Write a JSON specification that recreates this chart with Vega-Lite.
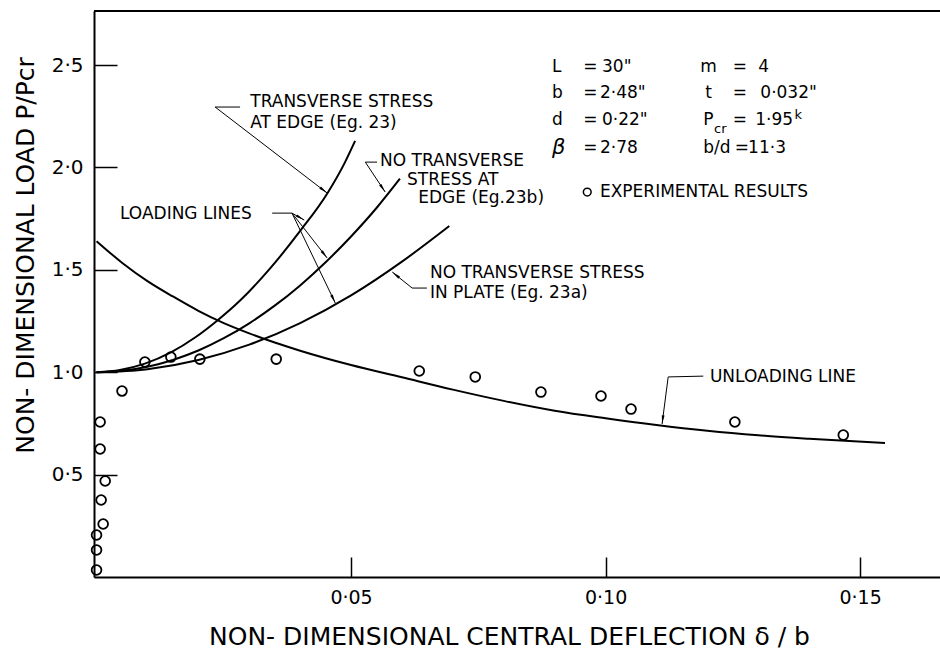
{
  "$schema": "https://vega.github.io/schema/vega-lite/v6.json",
  "width": 846,
  "height": 566,
  "autosize": {"type": "none"},
  "padding": {"left": 94, "top": 11, "right": 0, "bottom": 74},
  "background": "white",
  "config": {
    "view": {"stroke": null},
    "font": "DejaVu Sans",
    "axis": {
      "grid": false,
      "domainColor": "black",
      "domainWidth": 2,
      "tickColor": "black",
      "tickWidth": 1.5,
      "labelColor": "black",
      "titleColor": "black",
      "labelFont": "DejaVu Sans",
      "titleFont": "DejaVu Sans",
      "titleFontWeight": "normal"
    },
    "text": {"align": "left", "baseline": "middle", "color": "black", "font": "DejaVu Sans"}
  },
  "datasets": {
    "curves": [
      {"curve": "Eq23", "x": 0, "y": 1.0},
      {"curve": "Eq23", "x": 0.0046, "y": 1.011},
      {"curve": "Eq23", "x": 0.0095, "y": 1.042},
      {"curve": "Eq23", "x": 0.0146, "y": 1.097},
      {"curve": "Eq23", "x": 0.0195, "y": 1.172},
      {"curve": "Eq23", "x": 0.0235, "y": 1.248},
      {"curve": "Eq23", "x": 0.0282, "y": 1.35},
      {"curve": "Eq23", "x": 0.0341, "y": 1.507},
      {"curve": "Eq23", "x": 0.04, "y": 1.69},
      {"curve": "Eq23", "x": 0.0453, "y": 1.872},
      {"curve": "Eq23", "x": 0.0488, "y": 2.025},
      {"curve": "Eq23", "x": 0.0508, "y": 2.13},
      {"curve": "Eq23b", "x": 0, "y": 1.0},
      {"curve": "Eq23b", "x": 0.005, "y": 1.007},
      {"curve": "Eq23b", "x": 0.01, "y": 1.027},
      {"curve": "Eq23b", "x": 0.015, "y": 1.06},
      {"curve": "Eq23b", "x": 0.02, "y": 1.106},
      {"curve": "Eq23b", "x": 0.025, "y": 1.166},
      {"curve": "Eq23b", "x": 0.03, "y": 1.239},
      {"curve": "Eq23b", "x": 0.035, "y": 1.325},
      {"curve": "Eq23b", "x": 0.04, "y": 1.424},
      {"curve": "Eq23b", "x": 0.045, "y": 1.537},
      {"curve": "Eq23b", "x": 0.05, "y": 1.663},
      {"curve": "Eq23b", "x": 0.055, "y": 1.802},
      {"curve": "Eq23b", "x": 0.0596, "y": 1.945},
      {"curve": "Eq23a", "x": 0, "y": 1.0},
      {"curve": "Eq23a", "x": 0.01, "y": 1.015},
      {"curve": "Eq23a", "x": 0.02, "y": 1.06},
      {"curve": "Eq23a", "x": 0.03, "y": 1.135},
      {"curve": "Eq23a", "x": 0.04, "y": 1.24},
      {"curve": "Eq23a", "x": 0.05, "y": 1.375},
      {"curve": "Eq23a", "x": 0.06, "y": 1.54},
      {"curve": "Eq23a", "x": 0.0693, "y": 1.714},
      {"curve": "Unloading", "x": 0, "y": 1.64},
      {"curve": "Unloading", "x": 0.005, "y": 1.535},
      {"curve": "Unloading", "x": 0.01, "y": 1.445},
      {"curve": "Unloading", "x": 0.015, "y": 1.37},
      {"curve": "Unloading", "x": 0.02, "y": 1.3},
      {"curve": "Unloading", "x": 0.025, "y": 1.24},
      {"curve": "Unloading", "x": 0.03, "y": 1.19},
      {"curve": "Unloading", "x": 0.035, "y": 1.145},
      {"curve": "Unloading", "x": 0.04, "y": 1.105},
      {"curve": "Unloading", "x": 0.05, "y": 1.035},
      {"curve": "Unloading", "x": 0.06, "y": 0.975},
      {"curve": "Unloading", "x": 0.07, "y": 0.915},
      {"curve": "Unloading", "x": 0.08, "y": 0.86},
      {"curve": "Unloading", "x": 0.09, "y": 0.812},
      {"curve": "Unloading", "x": 0.1, "y": 0.775},
      {"curve": "Unloading", "x": 0.11, "y": 0.742},
      {"curve": "Unloading", "x": 0.12, "y": 0.714},
      {"curve": "Unloading", "x": 0.13, "y": 0.692},
      {"curve": "Unloading", "x": 0.14, "y": 0.675},
      {"curve": "Unloading", "x": 0.1549, "y": 0.654}
    ],
    "experiment": [
      {"x": 0.0, "y": 0.034},
      {"x": 0.0, "y": 0.132},
      {"x": 0.0, "y": 0.205},
      {"x": 0.0013, "y": 0.259},
      {"x": 0.0009, "y": 0.376},
      {"x": 0.0017, "y": 0.469},
      {"x": 0.0007, "y": 0.625},
      {"x": 0.0007, "y": 0.757},
      {"x": 0.005, "y": 0.908},
      {"x": 0.0095, "y": 1.05},
      {"x": 0.0146, "y": 1.074},
      {"x": 0.0203, "y": 1.064},
      {"x": 0.0353, "y": 1.064},
      {"x": 0.0634, "y": 1.006},
      {"x": 0.0744, "y": 0.977},
      {"x": 0.0873, "y": 0.903},
      {"x": 0.0991, "y": 0.884},
      {"x": 0.105, "y": 0.82},
      {"x": 0.1254, "y": 0.757},
      {"x": 0.1467, "y": 0.693}
    ],
    "leaders": [
      {"id": "A", "o": 1, "x": 0.0282, "y": 2.295},
      {"id": "A", "o": 2, "x": 0.0233, "y": 2.295},
      {"id": "A", "o": 3, "x": 0.0453, "y": 1.875},
      {"id": "B", "o": 1, "x": 0.0551, "y": 2.026},
      {"id": "B", "o": 2, "x": 0.0528, "y": 2.026},
      {"id": "B", "o": 3, "x": 0.0567, "y": 1.88},
      {"id": "C0", "o": 1, "x": 0.0345, "y": 1.777},
      {"id": "C0", "o": 2, "x": 0.0384, "y": 1.777},
      {"id": "C1", "o": 1, "x": 0.0384, "y": 1.777},
      {"id": "C1", "o": 2, "x": 0.0408, "y": 1.743},
      {"id": "C2", "o": 1, "x": 0.0384, "y": 1.777},
      {"id": "C2", "o": 2, "x": 0.0453, "y": 1.558},
      {"id": "C3", "o": 1, "x": 0.0384, "y": 1.777},
      {"id": "C3", "o": 2, "x": 0.0469, "y": 1.338},
      {"id": "D", "o": 1, "x": 0.0581, "y": 1.489},
      {"id": "D", "o": 2, "x": 0.062, "y": 1.411},
      {"id": "D", "o": 3, "x": 0.0649, "y": 1.411},
      {"id": "E", "o": 1, "x": 0.1192, "y": 0.981},
      {"id": "E", "o": 2, "x": 0.1123, "y": 0.977},
      {"id": "E", "o": 3, "x": 0.1111, "y": 0.747}
    ],
    "arrows": [
      {"id": "A", "x": 0.0453, "y": 1.875},
      {"id": "B", "x": 0.0567, "y": 1.88},
      {"id": "C1", "x": 0.0408, "y": 1.743},
      {"id": "C2", "x": 0.0453, "y": 1.558},
      {"id": "C3", "x": 0.0469, "y": 1.338},
      {"id": "D", "x": 0.0581, "y": 1.489},
      {"id": "E", "x": 0.1111, "y": 0.747}
    ],
    "labels": [
      {"t": "TRANSVERSE STRESS", "x": 0.0302, "y": 2.319, "g": "a"},
      {"t": "AT EDGE (Eg. 23)", "x": 0.0302, "y": 2.217, "g": "a"},
      {"t": "NO TRANSVERSE", "x": 0.0557, "y": 2.03, "g": "a"},
      {"t": "STRESS AT", "x": 0.061, "y": 1.94, "g": "a"},
      {"t": "EDGE (Eg.23b)", "x": 0.0632, "y": 1.85, "g": "a"},
      {"t": "LOADING LINES", "x": 0.0046, "y": 1.775, "g": "a"},
      {"t": "NO TRANSVERSE STRESS", "x": 0.0655, "y": 1.484, "g": "a"},
      {"t": "IN PLATE (Eg. 23a)", "x": 0.0655, "y": 1.387, "g": "a"},
      {"t": "UNLOADING LINE", "x": 0.1205, "y": 0.977, "g": "a"},
      {"t": "EXPERIMENTAL RESULTS", "x": 0.0989, "y": 1.88, "g": "p"},
      {"t": "L", "x": 0.0895, "y": 2.49, "g": "p"},
      {"t": "=", "x": 0.0956, "y": 2.49, "g": "p"},
      {"t": "30\"", "x": 0.0993, "y": 2.49, "g": "p"},
      {"t": "m", "x": 0.1186, "y": 2.49, "g": "p"},
      {"t": "=", "x": 0.125, "y": 2.49, "g": "p"},
      {"t": "4", "x": 0.13, "y": 2.49, "g": "p"},
      {"t": "b", "x": 0.0895, "y": 2.363, "g": "p"},
      {"t": "=", "x": 0.0956, "y": 2.363, "g": "p"},
      {"t": "2·48\"", "x": 0.0989, "y": 2.363, "g": "p"},
      {"t": "t", "x": 0.1196, "y": 2.363, "g": "p"},
      {"t": "=", "x": 0.125, "y": 2.363, "g": "p"},
      {"t": "0·032\"", "x": 0.1304, "y": 2.363, "g": "p"},
      {"t": "d", "x": 0.0895, "y": 2.231, "g": "p"},
      {"t": "=", "x": 0.0956, "y": 2.231, "g": "p"},
      {"t": "0·22\"", "x": 0.0993, "y": 2.231, "g": "p"},
      {"t": "P", "x": 0.1192, "y": 2.231, "g": "p"},
      {"t": "cr", "x": 0.1213, "y": 2.19, "g": "s"},
      {"t": "=", "x": 0.125, "y": 2.231, "g": "p"},
      {"t": "1·95", "x": 0.1294, "y": 2.231, "g": "p"},
      {"t": "k", "x": 0.1371, "y": 2.255, "g": "s"},
      {"t": "β", "x": 0.0895, "y": 2.095, "g": "b"},
      {"t": "=", "x": 0.0956, "y": 2.095, "g": "p"},
      {"t": "2·78", "x": 0.0989, "y": 2.095, "g": "p"},
      {"t": "b/d", "x": 0.1192, "y": 2.095, "g": "p"},
      {"t": "=", "x": 0.1254, "y": 2.095, "g": "p"},
      {"t": "11·3", "x": 0.128, "y": 2.095, "g": "p"}
    ],
    "legendmark": [{"x": 0.0964, "y": 1.88}]
  },
  "layer": [
    {
      "data": {"name": "curves"},
      "mark": {"type": "line", "color": "black", "strokeWidth": 2, "interpolate": "monotone"},
      "encoding": {
        "x": {
          "field": "x", "type": "quantitative",
          "scale": {"domain": [-0.0005, 0.1657], "nice": false, "zero": false},
          "axis": {
            "values": [0.05, 0.1, 0.15],
            "labelExpr": "replace(format(datum.value, '.2f'), '.', '·')",
            "tickSize": -20,
            "labelPadding": 31,
            "labelFontSize": 19,
            "title": "NON- DIMENSIONAL CENTRAL DEFLECTION δ / b",
            "titleFontSize": 25,
            "titleBaseline": "alphabetic",
            "titleY": 67,
            "titleX": 415
          }
        },
        "y": {
          "field": "y", "type": "quantitative",
          "scale": {"domain": [0, 2.764], "nice": false, "zero": false},
          "axis": {
            "values": [0.5, 1, 1.5, 2, 2.5],
            "labelExpr": "replace(format(datum.value, '.1f'), '.', '·')",
            "tickSize": -23,
            "labelPadding": 34,
            "labelFontSize": 20,
            "title": "NON- DIMENSIONAL LOAD P/Pcr",
            "titleFontSize": 25,
            "titleAngle": 270,
            "titleAlign": "center",
            "titleBaseline": "alphabetic",
            "titleX": -61,
            "titleY": 244
          }
        },
        "detail": {"field": "curve"}
      }
    },
    {
      "data": {"values": [{"top": 2.764}]},
      "mark": {"type": "rule", "color": "black", "strokeWidth": 2},
      "encoding": {"y": {"field": "top", "type": "quantitative"}}
    },
    {
      "data": {"name": "leaders"},
      "mark": {"type": "line", "color": "black", "strokeWidth": 1},
      "encoding": {
        "x": {"field": "x", "type": "quantitative"},
        "y": {"field": "y", "type": "quantitative"},
        "detail": {"field": "id"},
        "order": {"field": "o"}
      }
    },
    {
      "data": {"name": "experiment"},
      "mark": {"type": "point", "shape": "circle", "filled": false, "color": "black", "strokeWidth": 1.8, "size": 95, "opacity": 1},
      "encoding": {
        "x": {"field": "x", "type": "quantitative"},
        "y": {"field": "y", "type": "quantitative"}
      }
    },
    {
      "data": {"name": "legendmark"},
      "mark": {"type": "point", "shape": "circle", "filled": false, "color": "black", "strokeWidth": 1.5, "size": 60, "opacity": 1},
      "encoding": {
        "x": {"field": "x", "type": "quantitative"},
        "y": {"field": "y", "type": "quantitative"}
      }
    },
    {"data": {"name": "arrows"}, "transform": [{"filter": "datum.id == 'A'"}],
     "mark": {"type": "point", "shape": "M0,0L0.35,2.2L-0.35,2.2Z", "filled": true, "color": "black", "size": 64, "opacity": 1, "angle": 127.5},
     "encoding": {"x": {"field": "x", "type": "quantitative"}, "y": {"field": "y", "type": "quantitative"}}},
    {"data": {"name": "arrows"}, "transform": [{"filter": "datum.id == 'B'"}],
     "mark": {"type": "point", "shape": "M0,0L0.35,2.2L-0.35,2.2Z", "filled": true, "color": "black", "size": 64, "opacity": 1, "angle": 146.3},
     "encoding": {"x": {"field": "x", "type": "quantitative"}, "y": {"field": "y", "type": "quantitative"}}},
    {"data": {"name": "arrows"}, "transform": [{"filter": "datum.id == 'C1'"}],
     "mark": {"type": "point", "shape": "M0,0L0.35,2.2L-0.35,2.2Z", "filled": true, "color": "black", "size": 64, "opacity": 1, "angle": 120.3},
     "encoding": {"x": {"field": "x", "type": "quantitative"}, "y": {"field": "y", "type": "quantitative"}}},
    {"data": {"name": "arrows"}, "transform": [{"filter": "datum.id == 'C2'"}],
     "mark": {"type": "point", "shape": "M0,0L0.35,2.2L-0.35,2.2Z", "filled": true, "color": "black", "size": 64, "opacity": 1, "angle": 142.1},
     "encoding": {"x": {"field": "x", "type": "quantitative"}, "y": {"field": "y", "type": "quantitative"}}},
    {"data": {"name": "arrows"}, "transform": [{"filter": "datum.id == 'C3'"}],
     "mark": {"type": "point", "shape": "M0,0L0.35,2.2L-0.35,2.2Z", "filled": true, "color": "black", "size": 64, "opacity": 1, "angle": 154.5},
     "encoding": {"x": {"field": "x", "type": "quantitative"}, "y": {"field": "y", "type": "quantitative"}}},
    {"data": {"name": "arrows"}, "transform": [{"filter": "datum.id == 'D'"}],
     "mark": {"type": "point", "shape": "M0,0L0.35,2.2L-0.35,2.2Z", "filled": true, "color": "black", "size": 64, "opacity": 1, "angle": 308.7},
     "encoding": {"x": {"field": "x", "type": "quantitative"}, "y": {"field": "y", "type": "quantitative"}}},
    {"data": {"name": "arrows"}, "transform": [{"filter": "datum.id == 'E'"}],
     "mark": {"type": "point", "shape": "M0,0L0.35,2.2L-0.35,2.2Z", "filled": true, "color": "black", "size": 64, "opacity": 1, "angle": 187.3},
     "encoding": {"x": {"field": "x", "type": "quantitative"}, "y": {"field": "y", "type": "quantitative"}}},
    {"data": {"name": "labels"}, "transform": [{"filter": "datum.g == 'a'"}],
     "mark": {"type": "text", "fontSize": 17},
     "encoding": {"x": {"field": "x", "type": "quantitative"}, "y": {"field": "y", "type": "quantitative"}, "text": {"field": "t"}}},
    {"data": {"name": "labels"}, "transform": [{"filter": "datum.g == 'p'"}],
     "mark": {"type": "text", "fontSize": 17},
     "encoding": {"x": {"field": "x", "type": "quantitative"}, "y": {"field": "y", "type": "quantitative"}, "text": {"field": "t"}}},
    {"data": {"name": "labels"}, "transform": [{"filter": "datum.g == 's'"}],
     "mark": {"type": "text", "fontSize": 13},
     "encoding": {"x": {"field": "x", "type": "quantitative"}, "y": {"field": "y", "type": "quantitative"}, "text": {"field": "t"}}},
    {"data": {"name": "labels"}, "transform": [{"filter": "datum.g == 'b'"}],
     "mark": {"type": "text", "fontSize": 21, "fontStyle": "italic"},
     "encoding": {"x": {"field": "x", "type": "quantitative"}, "y": {"field": "y", "type": "quantitative"}, "text": {"field": "t"}}}
  ]
}
